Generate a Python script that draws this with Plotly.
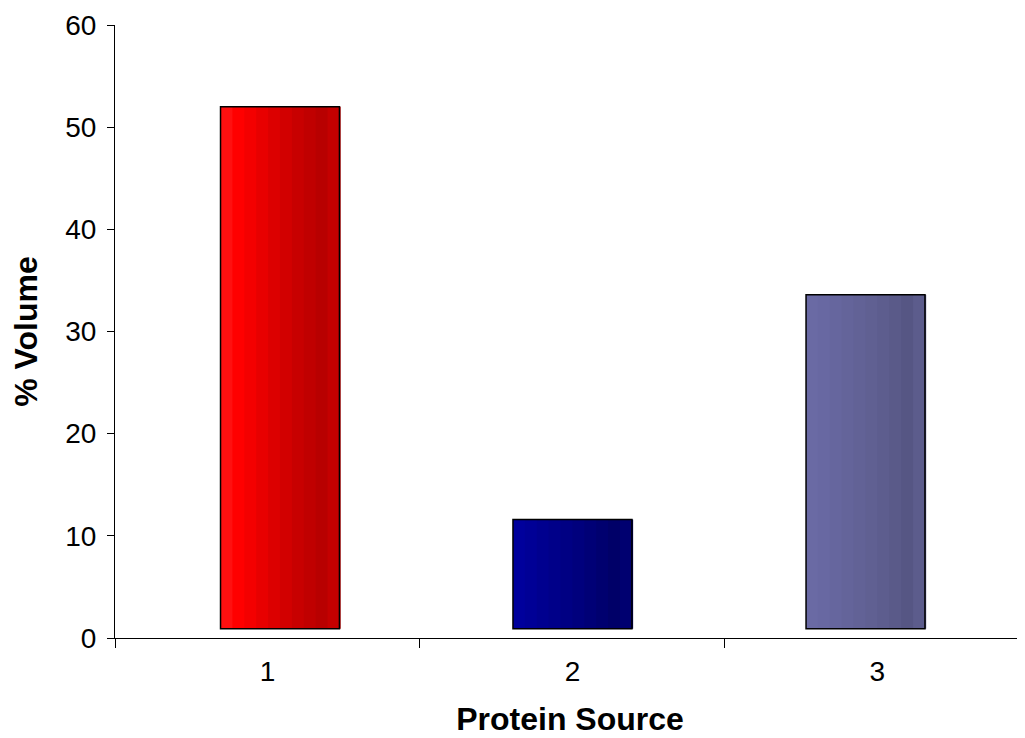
import plotly.graph_objects as go

categories = ["1", "2", "3"]
values = [52.0, 11.6, 33.6]

# left -> right shading of each cylinder
shades = [
    ["#FF1010", "#FF0000", "#F40000", "#E80000", "#DC0000", "#D20000", "#C80000", "#C00000", "#B80000", "#C40000"],
    ["#00009C", "#000096", "#00008F", "#000089", "#000083", "#00007D", "#000076", "#00006F", "#000068", "#000070"],
    ["#6A6AA4", "#6868A2", "#66669E", "#64649A", "#626296", "#606092", "#5D5D8E", "#5A5A89", "#565684", "#5C5C8C"],
]
base_val = 0.9
bar_w = 0.39
shift = [0.041, 0.0, -0.039]
n = len(shades[0])

fig = go.Figure()
for k in range(n):
    fig.add_trace(go.Bar(
        x=categories,
        y=[v - base_val for v in values],
        base=base_val,
        width=bar_w / n + 0.004,
        offset=[s - bar_w / 2 + k * bar_w / n for s in shift],
        marker=dict(color=[shades[i][k] for i in range(3)], line=dict(width=0)),
        hoverinfo="skip",
    ))
fig.add_trace(go.Bar(
    x=categories,
    y=[v - base_val for v in values],
    base=base_val,
    width=bar_w,
    offset=[s - bar_w / 2 for s in shift],
    marker=dict(color="rgba(0,0,0,0)", line=dict(color="black", width=1.5)),
    hoverinfo="skip",
))

fig.update_layout(
    width=1017, height=730,
    margin=dict(l=107, r=0, t=17, b=100),
    paper_bgcolor="white", plot_bgcolor="white",
    showlegend=False, barmode="overlay",
    font=dict(family="Liberation Sans, Arial, sans-serif", color="black"),
)
fig.update_yaxes(
    range=[0, 60], dtick=10, tick0=0,
    showline=True, linecolor="black", linewidth=1,
    ticks="outside", ticklen=7, tickcolor="black",
    ticklabelstandoff=5,
    showgrid=False, zeroline=False,
    tickfont=dict(size=28),
    title=dict(text="<b>% Volume</b>", font=dict(size=32), standoff=22),
)
fig.update_xaxes(
    type="category", range=[-0.5, 2.484],
    tickson="boundaries",
    showline=True, linecolor="black", linewidth=1,
    ticks="outside", ticklen=9, tickcolor="black",
    ticklabelstandoff=8,
    showgrid=False,
    tickfont=dict(size=28),
    title=dict(text="<b>Protein Source</b>", font=dict(size=32), standoff=22),
)

fig.write_html("out.html")
